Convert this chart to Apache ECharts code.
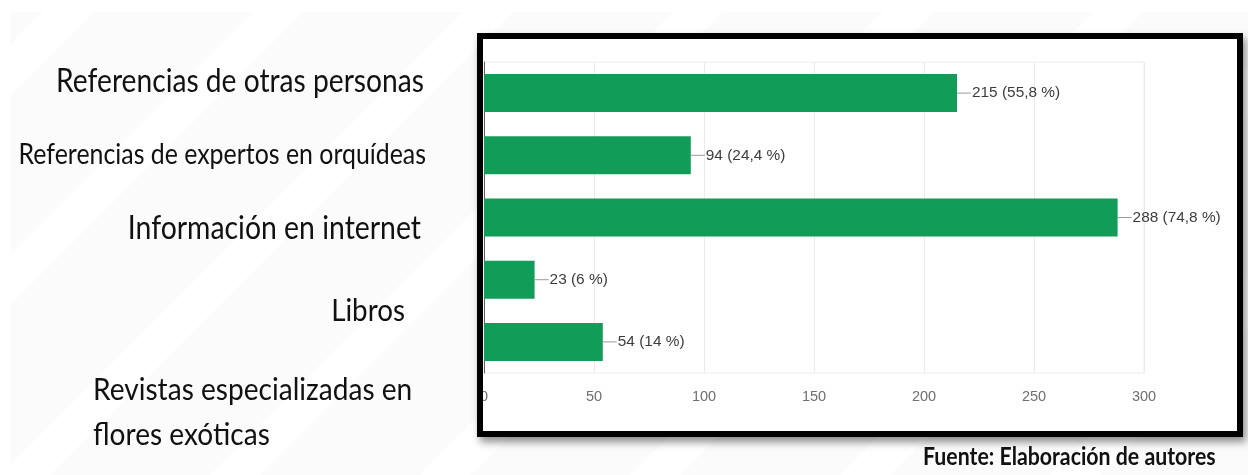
<!DOCTYPE html>
<html>
<head>
<meta charset="utf-8">
<script src="https://cdn.jsdelivr.net/npm/echarts@6/dist/echarts.min.js"></script>
<style>
  html, body { margin: 0; padding: 0; background: #ffffff; }
  #chart { width: 1248px; height: 475px; }
</style>
</head>
<body>
<div id="chart"></div>
<script>
// Fuentes de información consultadas (respuestas y porcentaje)
const categories = [
  'Referencias de otras personas',
  'Referencias de expertos en orquídeas',
  'Información en internet',
  'Libros',
  'Revistas especializadas en\nflores exóticas'
];
const counts = [215, 94, 288, 23, 54];
const shares = ['55,8', '24,4', '74,8', '6', '14'];
const xTicks = [0, 50, 100, 150, 200, 250, 300];
const sourceNote = 'Fuente: Elaboración de autores';

const plotFont = "'Liberation Sans', Arial, sans-serif";
const sideFont = "Lato, 'Open Sans', sans-serif";

// side label placement: [x, y, align, fontSize]
const sideLabelPos = [
  [424, 82, 'right', 28.2],
  [426, 155, 'right', 24.9],
  [421, 229, 'right', 28.4],
  [405, 311, 'right', 27.8],
  [93, 387, 'left', 28.1]
];

const chart = echarts.init(document.getElementById('chart'), null, { renderer: 'canvas' });

// faint diagonal stripes behind everything
const stripes = [];
for (let k = -2; k < 9; k++) {
  const x0 = k * 210;
  stripes.push({
    type: 'polygon', silent: true, z: -20,
    shape: { points: [[x0, 475], [x0 + 50, 475], [x0 + 50 + 463, 12], [x0 + 463, 12]] },
    style: { fill: '#ffffff' }
  });
}

const sideLabels = categories.map((name, i) => {
  const p = sideLabelPos[i];
  return {
    type: 'text', x: p[0], y: p[1], scaleY: 1.13, z: 10,
    style: {
      text: name, fill: '#111111', font: p[3] + 'px ' + sideFont,
      textAlign: p[2], textVerticalAlign: 'middle', lineHeight: 40
    }
  };
});
// the two-line label is positioned by its first line
sideLabels[4].style.textVerticalAlign = 'top';
sideLabels[4].y = 387 - 20;

const option = {
  backgroundColor: '#ffffff',
  animation: false,
  grid: {
    left: 484, right: 104, top: 62, bottom: 102,
    show: true, borderColor: '#ececec', borderWidth: 1, backgroundColor: 'transparent'
  },
  xAxis: {
    type: 'value', min: xTicks[0], max: xTicks[xTicks.length - 1], interval: xTicks[1] - xTicks[0],
    axisLine: { show: false }, axisTick: { show: false },
    splitLine: { lineStyle: { color: '#ebebeb', width: 1 } },
    axisLabel: { color: '#6f6f6f', fontSize: 14.5, fontFamily: plotFont, margin: 16 }
  },
  yAxis: {
    type: 'category', data: categories, inverse: true,
    axisLine: { show: true, lineStyle: { color: '#5f5f5f', width: 1 } },
    axisTick: { show: false }, axisLabel: { show: false }, splitLine: { show: false }
  },
  series: [{
    type: 'bar',
    data: counts,
    barWidth: 38,
    itemStyle: { color: '#119c58' },
    label: {
      show: true, position: 'right', distance: 0,
      formatter: (p) => '{ln| }{v|' + counts[p.dataIndex] + ' (' + shares[p.dataIndex] + ' %)}',
      rich: {
        ln: { width: 14, height: 1, backgroundColor: '#9a9a9a', fontSize: 1 },
        v: { color: '#3c3c3c', fontSize: 15.4, fontFamily: plotFont, padding: [0, 0, 0, 1] }
      }
    }
  }],
  graphic: [
    { type: 'rect', silent: true, z: -30, shape: { x: 0, y: 0, width: 1248, height: 475 }, style: { fill: '#ffffff' } },
    { type: 'rect', silent: true, z: -25, shape: { x: 10, y: 12, width: 1238, height: 463 }, style: { fill: '#fbfbfb' } },
    ...stripes,
    {
      type: 'rect', silent: true, z: -5,
      shape: { x: 477, y: 33, width: 766, height: 404 },
      style: { fill: '#ffffff', shadowBlur: 8, shadowOffsetX: 3, shadowOffsetY: 5, shadowColor: 'rgba(0,0,0,0.45)' }
    },
    {
      type: 'rect', silent: true, z: 100,
      shape: { x: 480, y: 36, width: 760, height: 398 },
      style: { fill: 'none', stroke: '#000000', lineWidth: 6 }
    },
    ...sideLabels,
    {
      type: 'text', x: 923, y: 457, scaleY: 1.15, z: 10,
      style: { text: sourceNote, fill: '#111111', font: 'bold 21.3px ' + sideFont, textAlign: 'left', textVerticalAlign: 'middle' }
    }
  ]
};

chart.setOption(option);
</script>
</body>
</html>
